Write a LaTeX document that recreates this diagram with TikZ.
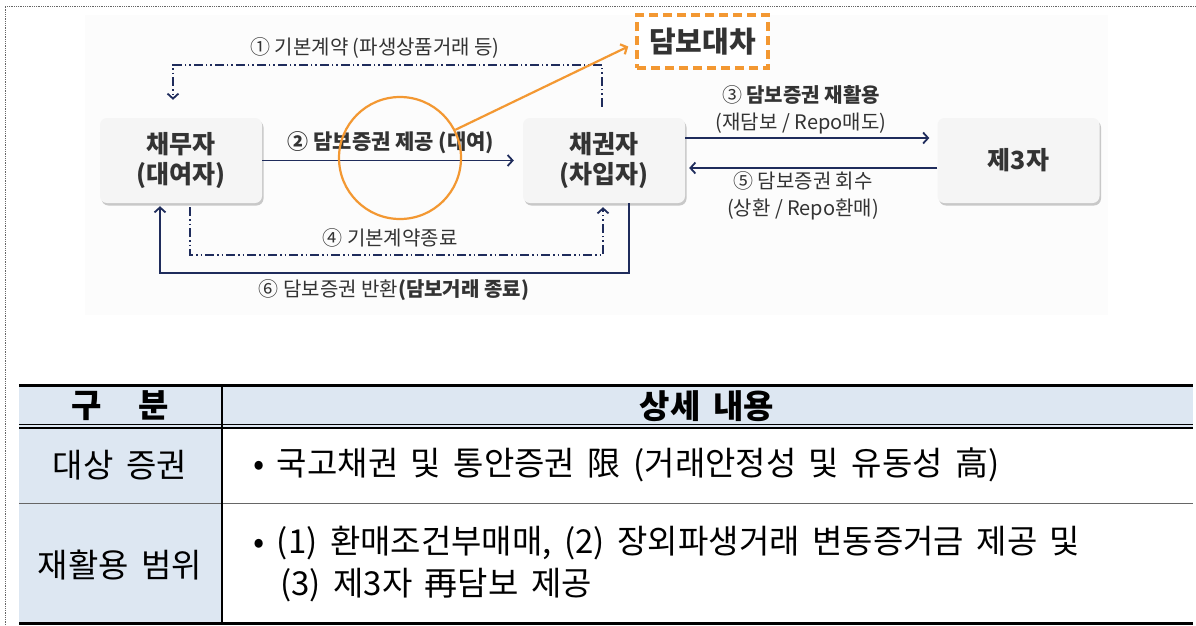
\documentclass[tikz,border=0pt]{standalone}
\usepackage{fontspec}
\setmainfont{Noto Sans CJK KR}
\newfontfamily\tblfont{Noto Sans CJK KR}[WordSpace=1.7]
\usetikzlibrary{arrows.meta,shadows,positioning}
\definecolor{navy}{RGB}{31,44,92}
\definecolor{amber}{RGB}{243,152,50}
\definecolor{ink}{RGB}{51,51,51}
\definecolor{headblue}{RGB}{221,231,242}
\definecolor{panel}{RGB}{245,245,245}

\begin{document}
\begin{tikzpicture}[x=1pt,y=-1pt,>={Straight Barb[length=5pt,width=11pt]},
    party/.style={rounded corners=7pt, fill=panel, text=ink, minimum width=162pt,
      minimum height=85pt, align=center, font=\bfseries\fontsize{25}{30}\selectfont,
      drop shadow={shadow xshift=1.5pt,shadow yshift=-2.5pt,fill=black!35,opacity=.6}},
    flow/.style={navy, line width=1.8pt},
    pact/.style={navy, line width=1.8pt,
      dash pattern=on 9pt off 3pt on 1.5pt off 3pt on 1.5pt off 3pt},
    lbl/.style={text=ink, font=\fontsize{20}{27}\selectfont, align=center, inner sep=0pt},
    cell/.style={text=black, font=\tblfont\fontsize{33}{40}\selectfont, inner sep=0pt}]
  \useasboundingbox (0,0) rectangle (1196,625);

  % frame and panel
  \draw[densely dotted, black!60, line width=0.8pt] (5,625) -- (5,6) -- (1196,6);
  \fill[black!1] (85,15) rectangle (1108,315);

  % parties
  \node[party] (dbtr) at (181,160.5) {채무자\\(대여자)};
  \node[party] (crdt) at (604,160.5) {채권자\\(차입자)};
  \node[party] (third) at (1018.5,160.5) {제3자};
  \node[draw=amber, line width=3.5pt, dash pattern=on 9pt off 5pt, fill=white,
        minimum width=131pt, minimum height=53pt, text=ink,
        font=\bfseries\fontsize{29}{32}\selectfont] (lend) at (702.5,41.5) {담보대차};

  % flows
  \coordinate (topline) at (0,65);
  \coordinate (endline) at (0,255);
  \coordinate (retline) at (0,273);
  \draw[pact,->] ([xshift=-2pt,yshift=11pt]crdt.north) -- ([xshift=-2pt]crdt.north |- topline)
    -| ([xshift=-8pt,yshift=18pt]dbtr.north);
  \draw[flow,->] (dbtr.east) -- ([xshift=-9pt]crdt.west);
  \draw[flow,->] ([yshift=22.5pt]crdt.east) -- ([yshift=22.5pt,xshift=-8pt]third.west);
  \draw[flow,->] ([yshift=-7.5pt]third.west) -- ([yshift=-7.5pt,xshift=4pt]crdt.east);
  \draw[pact,->] ([xshift=9pt,yshift=-4pt]dbtr.south) |- ([xshift=-1pt]crdt.south |- endline)
    -- ([xshift=-1pt,yshift=-4pt]crdt.south);
  \draw[flow,->] ([xshift=25pt]crdt.south) |- ([xshift=-21pt]dbtr.south |- retline)
    -- ([xshift=-21pt,yshift=-3pt]dbtr.south);

  % labels
  \node[lbl] (l1) at (375,48) {① 기본계약 (파생상품거래 등)};
  \node[lbl, font=\bfseries\fontsize{21}{24}\selectfont] (l2) at (391,143) {② 담보증권 제공 (대여)};
  \node[lbl] (l3) at (801,110) {③ \textbf{담보증권 재활용}\\(재담보 / Repo매도)};
  \node[lbl] (l4) at (390,238) {④ 기본계약종료};
  \node[lbl] (l5) at (803,196) {⑤ 담보증권 회수\\(상환 / Repo환매)};
  \node[lbl] (l6) at (394,290) {⑥ 담보증권 반환\textbf{(담보거래 종료)}};

  % loupe
  \node[draw=amber, line width=2.2pt, circle, minimum size=122pt] (loupe) at (400,158) {};
  \draw[amber, line width=2.2pt, ->] (loupe.27) -- ([xshift=-7pt,yshift=-5pt]lend.west);

  % table
  \fill[headblue] (19,385) rectangle (1193,427);
  \fill[headblue] (19,427) rectangle (222,623);
  \draw[line width=3pt] (19,385) -- (1193,385);
  \draw[line width=0.9pt] (19,424) -- (1193,424);
  \draw[line width=1.4pt] (19,428) -- (1193,428);
  \draw[black!60, line width=0.9pt] (19,503) -- (1193,503);
  \draw[line width=3pt] (19,623) -- (1193,623);
  \draw[line width=1.2pt] (222,385) -- (222,623);

  \node[cell, font=\tblfont\bfseries\fontsize{33}{36}\selectfont] (h1) at (120,406) {구\hspace{1.1em}분};
  \node[cell, font=\tblfont\bfseries\fontsize{33}{36}\selectfont] (h2) at (707,406) {상세 내용};
  \node[cell] (r1) at (120,465) {대상 증권};
  \node[cell] (r2) at (120,565) {재활용 범위};
  \node[cell, anchor=west] (d1) at (253,465) {• 국고채권 및 통안증권 限 (거래안정성 및 유동성 高)};
  \node[cell, anchor=west] (d2) at (253,543) {• (1) 환매조건부매매, (2) 장외파생거래 변동증거금 제공 및};
  \node[cell, anchor=west] (d3) at (280,585) {(3) 제3자 再담보 제공};
\end{tikzpicture}
\end{document}
